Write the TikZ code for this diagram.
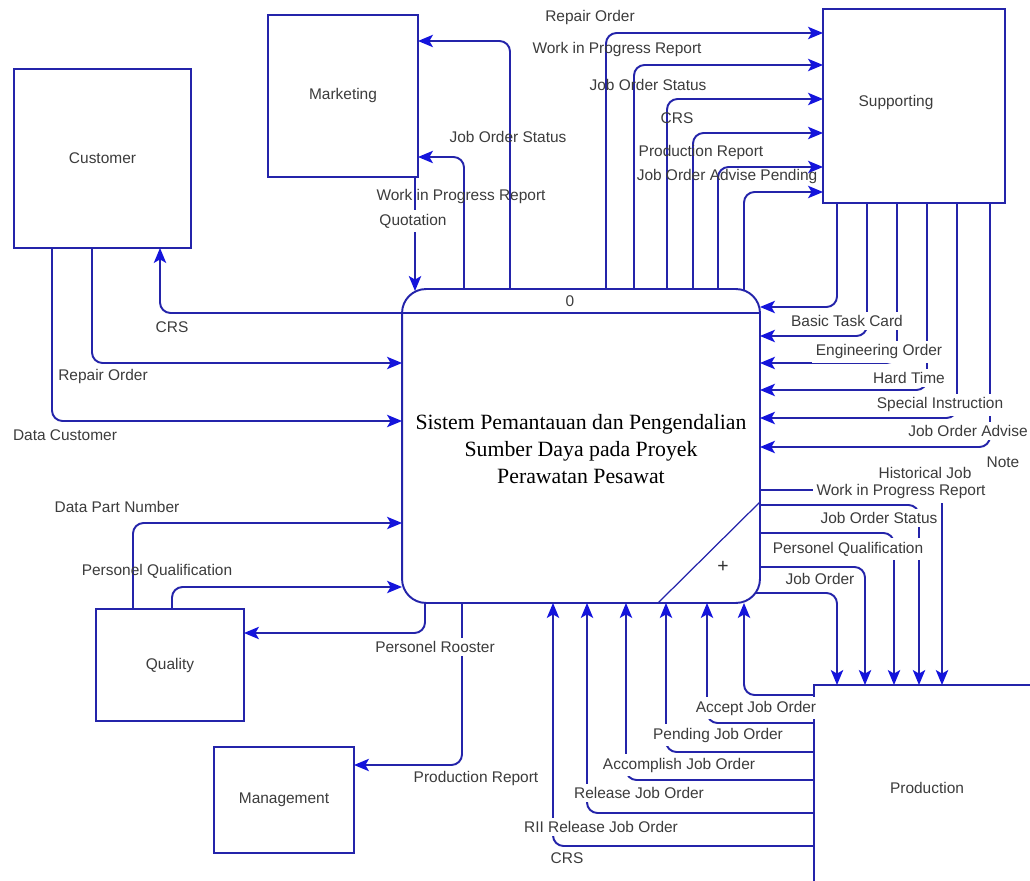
\documentclass[tikz,border=0pt]{standalone}
\usepackage{fontspec}
\setmainfont{Liberation Serif}
\setsansfont{Liberation Sans}
\usetikzlibrary{arrows.meta}
\definecolor{flowblue}{RGB}{36,36,170}
\definecolor{tipblue}{RGB}{20,20,220}
\definecolor{labelgray}{RGB}{60,60,60}

\begin{document}
\begin{tikzpicture}[x=0.02cm,y=-0.02cm,
  entity/.style={draw=flowblue,line width=1.1pt,inner sep=0pt,outer sep=0pt,
    font=\sffamily\fontsize{8.8}{10}\selectfont,text=labelgray},
  flow/.style={draw=flowblue,line width=1.1pt,rounded corners=6pt,
    -{Stealth[length=8.5pt,width=7pt,inset=2pt,color=tipblue]}},
  lbl/.style={font=\sffamily\fontsize{8.8}{10}\selectfont,text=labelgray,inner sep=1pt},
  wlbl/.style={lbl,fill=white,inner sep=2pt},
]
\useasboundingbox (0,0) rectangle (1030,881);
\fill[white] (0,0) rectangle (1030,881);

% external entities
\node[entity,minimum width=3.54cm,minimum height=3.58cm] (cust) at (102.5,158.5) {Customer};
\node[entity,minimum width=3cm,minimum height=3.24cm] (mkt) at (343,96) {Marketing};
\node[entity,minimum width=3.64cm,minimum height=3.88cm,
  label={[lbl,xshift=-0.36cm,yshift=0.06cm]center:Supporting}] (sup) at (914,106) {};
\node[entity,minimum width=2.96cm,minimum height=2.24cm] (qual) at (170,665) {Quality};
\node[entity,minimum width=2.8cm,minimum height=2.12cm] (mgmt) at (284,800) {Management};
\node[entity,minimum width=4.52cm,minimum height=4.1cm] (prod) at (927,787.5) {Production};

% the process
\node[draw=flowblue,line width=1.1pt,rounded corners=0.48cm,minimum width=7.16cm,
  minimum height=6.28cm,inner sep=0pt,outer sep=0pt,
  label={[font=\fontsize{12.4}{15.6}\selectfont,align=center,yshift=-0.06cm]center:
    Sistem Pemantauan dan Pengendalian\\Sumber Daya pada Proyek\\Perawatan Pesawat}]
  (proc) at (581,446) {};
\draw[flowblue,line width=1.1pt] (proc.west |- 0,313) -- (proc.east |- 0,313);
\draw[flowblue,line width=0.7pt] (proc.south -| 658,0) -- (proc.east |- 0,502);
\node[lbl] (pnum) at (570,301) {0};
\node[font=\sffamily\fontsize{11}{12}\selectfont,text=black!80] (pplus) at (723,567) {+};

% process <-> Marketing
\draw[flow] (proc.north -| 510,0) |- (mkt.east |- 0,41);
\draw[flow] (proc.north -| 464,0) |- (mkt.east |- 0,157);
\coordinate (qin) at (415,291);
\draw[flow] (mkt.south -| 415,0) -- (qin);

% process -> Supporting
\foreach \x/\y in {606/33,634/65,667/99,693/133,718/167}
  \draw[flow] (proc.north -| \x,0) |- (sup.west |- 0,\y);
\coordinate (pin) at (744,291);
\draw[flow] (pin) |- (sup.west |- 0,192);

% Supporting -> process
\foreach \x/\y in {837/307,867/336,897/363,927/390,957/418,990/447}
  \draw[flow] (sup.south -| \x,0) |- (proc.east |- 0,\y);

% process -> Production
\foreach \y/\x in {490/942,505/919,533/894,567/865}
  \draw[flow] (proc.east |- 0,\y) -| (prod.north -| \x,0);
\coordinate (pout) at (755,593);
\draw[flow] (pout) -| (prod.north -| 837,0);

% Production -> process
\foreach \y/\x in {695/744,723/707,752/666,780/626,813/587,846/553}
  \draw[flow] (prod.west |- 0,\y) -| (proc.south -| \x,0);

% Customer
\draw[flow] (proc.west |- 0,313) -| (cust.south -| 160,0);
\draw[flow] (cust.south -| 92,0) |- (proc.west |- 0,363);
\draw[flow] (cust.south -| 52,0) |- (proc.west |- 0,421);

% Quality
\draw[flow] (qual.north -| 133,0) |- (proc.west |- 0,523);
\draw[flow] (qual.north -| 172,0) |- (proc.west |- 0,587);
\draw[flow] (proc.south -| 425,0) |- (qual.east |- 0,633);

% Management
\draw[flow] (proc.south -| 462,0) |- (mgmt.east |- 0,765);

% flow labels
\node[lbl] (l1) at (590,18) {Repair Order};
\node[lbl] (l2) at (617,50) {Work in Progress Report};
\node[lbl] (l3) at (648,85) {Job Order Status};
\node[lbl] (l4) at (677,118) {CRS};
\node[lbl] (l5) at (701,153) {Production Report};
\node[lbl] (l6) at (727,177) {Job Order Advise Pending};

\node[lbl] (m1) at (508,137) {Job Order Status};
\node[lbl] (m2) at (461,197) {Work in Progress Report};
\node[wlbl] (m3) at (413,221) {Quotation};

\node[lbl] (c1) at (172,327) {CRS};
\node[lbl] (c2) at (103,377) {Repair Order};
\node[lbl] (c3) at (65,435) {Data Customer};

\node[lbl] (q1) at (117,507) {Data Part Number};
\node[lbl] (q2) at (157,571) {Personel Qualification};
\node[wlbl] (q3) at (435,647) {Personel Rooster};
\node[lbl] (g1) at (476,778) {Production Report};

\node[wlbl] (s1) at (847,321) {Basic Task Card};
\node[wlbl] (s2) at (879,352) {Engineering Order};
\node[wlbl] (s3) at (909,378) {Hard Time};
\node[wlbl] (s4) at (940,405) {Special Instruction};
\node[wlbl] (s5) at (968,431) {Job Order Advise};
\node[lbl] (s6) at (1003,462) {Note};

\node[lbl] (r1) at (925,473) {Historical Job};
\node[wlbl] (r2) at (901,492) {Work in Progress Report};
\node[wlbl] (r3) at (879,518) {Job Order Status};
\node[wlbl] (r4) at (848,549) {Personel Qualification};
\node[lbl] (r5) at (820,579) {Job Order};

\node[wlbl] (b1) at (756,708) {Accept Job Order};
\node[wlbl] (b2) at (718,735) {Pending Job Order};
\node[wlbl] (b3) at (679,765) {Accomplish Job Order};
\node[wlbl] (b4) at (639,793) {Release Job Order};
\node[wlbl] (b5) at (601,827) {RII Release Job Order};
\node[lbl] (b6) at (567,858) {CRS};
\end{tikzpicture}
\end{document}
